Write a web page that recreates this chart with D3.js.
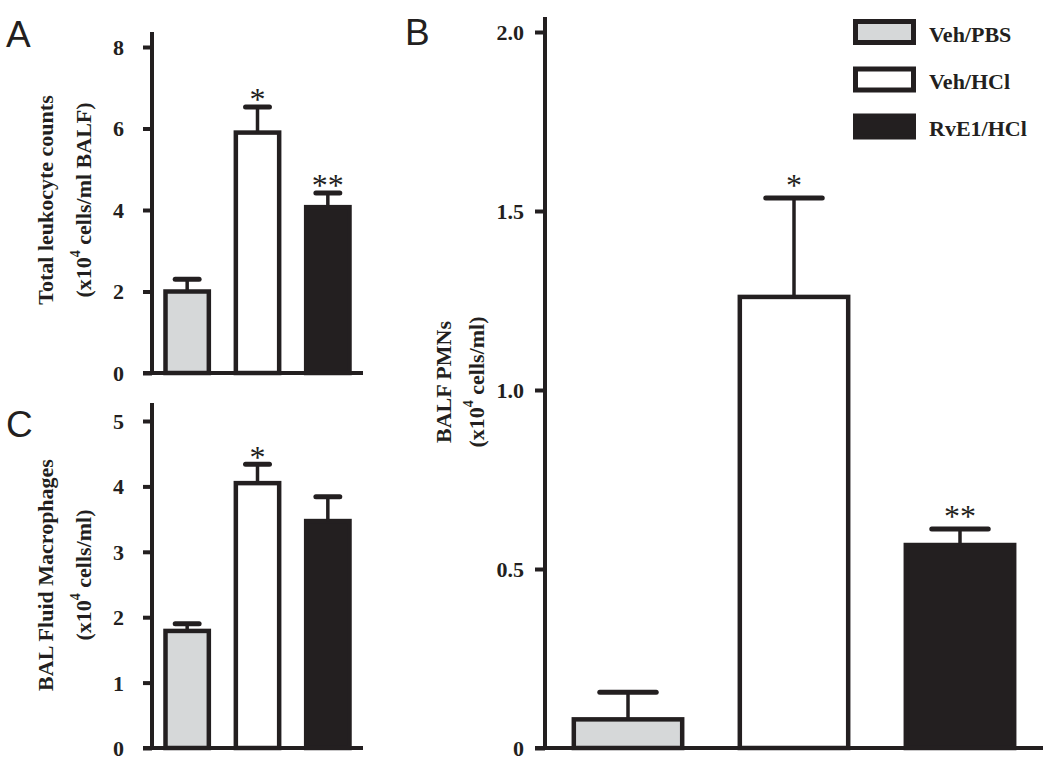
<!DOCTYPE html>
<html>
<head>
<meta charset="utf-8">
<script src="https://cdn.jsdelivr.net/npm/d3@7"></script>
<style>
  html, body { margin: 0; padding: 0; background: #ffffff; }
  svg { display: block; }
</style>
</head>
<body>
<svg id="chart" width="1050" height="765"></svg>
<script>
// ---------- data ----------
const groups = ["Veh/PBS", "Veh/HCl", "RvE1/HCl"];

const leukoMean = [2.0, 5.9, 4.07];
const leukoSEM  = [0.3, 0.63, 0.35];
const leukoStars = ["", "*", "**"];
const leukoTicks = [0, 2, 4, 6, 8];
const leukoTickLabels = ["0", "2", "4", "6", "8"];

const macroMean = [1.79, 4.05, 3.47];
const macroSEM  = [0.11, 0.29, 0.37];
const macroStars = ["", "*", ""];
const macroTicks = [0, 1, 2, 3, 4, 5];
const macroTickLabels = ["0", "1", "2", "3", "4", "5"];

const pmnMean = [0.08, 1.26, 0.567];
const pmnSEM  = [0.076, 0.276, 0.045];
const pmnStars = ["", "*", "**"];
const pmnTicks = [0, 0.5, 1.0, 1.5, 2.0];
const pmnTickLabels = ["0", "0.5", "1.0", "1.5", "2.0"];

// ---------- styles ----------
const INK = "#231f20";
const fills = { "Veh/PBS": "#d6d8d9", "Veh/HCl": "#ffffff", "RvE1/HCl": INK };
const serif = "'Liberation Serif', 'Times New Roman', serif";
const sans = "'Liberation Sans', Arial, sans-serif";

const svg = d3.select("#chart");

function drawPanel(o) {
  const g = svg.append("g");
  const y = d3.scaleLinear().domain(o.domain).range([o.baseY, o.topTickY]);
  const x = d3.scaleBand().domain(groups).range([o.axisX, o.endX])
    .paddingInner(0.32).paddingOuter(0.16);
  const sw = 4.5;

  // bars
  g.selectAll("rect.bar").data(groups).join("rect")
    .attr("class", "bar")
    .attr("x", d => x(d) + sw / 2)
    .attr("width", x.bandwidth() - sw)
    .attr("y", (d, i) => y(o.means[i]))
    .attr("height", (d, i) => o.baseY - y(o.means[i]))
    .attr("fill", d => fills[d])
    .attr("stroke", INK)
    .attr("stroke-width", sw);

  // error bars
  const capW = x.bandwidth() * 0.5;
  groups.forEach((d, i) => {
    const cx = x(d) + x.bandwidth() / 2;
    const yTop = y(o.means[i] + o.sems[i]);
    g.append("line")
      .attr("x1", cx).attr("x2", cx)
      .attr("y1", y(o.means[i])).attr("y2", yTop)
      .attr("stroke", INK).attr("stroke-width", 3.5);
    g.append("line")
      .attr("x1", cx - capW / 2).attr("x2", cx + capW / 2)
      .attr("y1", yTop).attr("y2", yTop)
      .attr("stroke", INK).attr("stroke-width", 5)
      .attr("stroke-linecap", "round");
    if (o.stars[i]) {
      g.append("text")
        .attr("x", cx)
        .attr("y", yTop - o.starOffset + 15)
        .attr("text-anchor", "middle")
        .attr("font-family", serif)
        .attr("font-size", 32)
        .attr("fill", INK)
        .text(o.stars[i]);
    }
  });

  // y axis ticks
  const axis = d3.axisLeft(y)
    .tickValues(o.ticks)
    .tickFormat((d, i) => o.tickLabels[i])
    .tickSize(o.tickLen)
    .tickSizeOuter(0)
    .tickPadding(o.tickPad);
  const ag = g.append("g").attr("transform", `translate(${o.axisX},0)`).call(axis);
  ag.select(".domain").remove();
  ag.selectAll(".tick line").attr("stroke", INK).attr("stroke-width", 4);
  ag.selectAll(".tick text")
    .attr("font-family", serif).attr("font-weight", "bold")
    .attr("font-size", 22).attr("fill", INK)
    .attr("dy", "0.34em");

  // axis line and baseline
  g.append("line")
    .attr("x1", o.axisX).attr("x2", o.axisX)
    .attr("y1", o.axisTopY).attr("y2", o.baseY + 2)
    .attr("stroke", INK).attr("stroke-width", 4);
  g.append("line")
    .attr("x1", o.axisX - o.tickLen).attr("x2", o.endX)
    .attr("y1", o.baseY).attr("y2", o.baseY)
    .attr("stroke", INK).attr("stroke-width", 4);

  // y labels (two lines, rotated)
  o.labelLines.forEach((line, k) => {
    const t = g.append("text")
      .attr("transform", `translate(${o.labelXs[k]},${o.labelY}) rotate(-90)`)
      .attr("text-anchor", "middle")
      .attr("dominant-baseline", "central")
      .attr("font-family", serif).attr("font-weight", "bold")
      .attr("font-size", 22).attr("fill", INK);
    line.forEach(seg => {
      const ts = t.append("tspan").text(seg.t);
      if (seg.sup) ts.attr("font-size", 14).attr("baseline-shift", "super");
    });
  });

  // panel letter
  g.append("text")
    .attr("x", o.letterX).attr("y", o.letterY)
    .attr("font-family", sans).attr("font-size", 37).attr("fill", INK)
    .text(o.letter);
}

drawPanel({
  axisX: 152, endX: 363, baseY: 373, topTickY: 47, axisTopY: 32,
  domain: [0, 8], ticks: leukoTicks, tickLabels: leukoTickLabels,
  tickLen: 9, tickPad: 19,
  means: leukoMean, sems: leukoSEM, stars: leukoStars, starOffset: 12,
  labelLines: [[{ t: "Total leukocyte counts" }],
               [{ t: "(x10" }, { t: "4", sup: true }, { t: " cells/ml BALF)" }]],
  labelXs: [45, 83], labelY: 200,
  letter: "A", letterX: 6, letterY: 47
});

drawPanel({
  axisX: 152, endX: 363, baseY: 748, topTickY: 421, axisTopY: 403,
  domain: [0, 5], ticks: macroTicks, tickLabels: macroTickLabels,
  tickLen: 9, tickPad: 19,
  means: macroMean, sems: macroSEM, stars: macroStars, starOffset: 11,
  labelLines: [[{ t: "BAL Fluid Macrophages" }],
               [{ t: "(x10" }, { t: "4", sup: true }, { t: " cells/ml)" }]],
  labelXs: [45, 83], labelY: 575,
  letter: "C", letterX: 6, letterY: 437
});

drawPanel({
  axisX: 545, endX: 1043, baseY: 748, topTickY: 32, axisTopY: 17,
  domain: [0, 2], ticks: pmnTicks, tickLabels: pmnTickLabels,
  tickLen: 10, tickPad: 11,
  means: pmnMean, sems: pmnSEM, stars: pmnStars, starOffset: 17,
  labelLines: [[{ t: "BALF PMNs" }],
               [{ t: "(x10" }, { t: "4", sup: true }, { t: " cells/ml)" }]],
  labelXs: [443, 476], labelY: 382,
  letter: "B", letterX: 405, letterY: 45
});

// legend
const legend = svg.append("g");
const legendY = [32, 79.5, 126.5];
groups.forEach((d, i) => {
  legend.append("rect")
    .attr("x", 855.5).attr("y", legendY[i] - 10.5)
    .attr("width", 58).attr("height", 21)
    .attr("fill", fills[d]).attr("stroke", INK).attr("stroke-width", 5);
  legend.append("text")
    .attr("x", 929).attr("y", legendY[i] + 2)
    .attr("dominant-baseline", "central")
    .attr("font-family", serif).attr("font-weight", "bold")
    .attr("font-size", 22).attr("fill", INK)
    .text(d);
});
</script>
</body>
</html>
